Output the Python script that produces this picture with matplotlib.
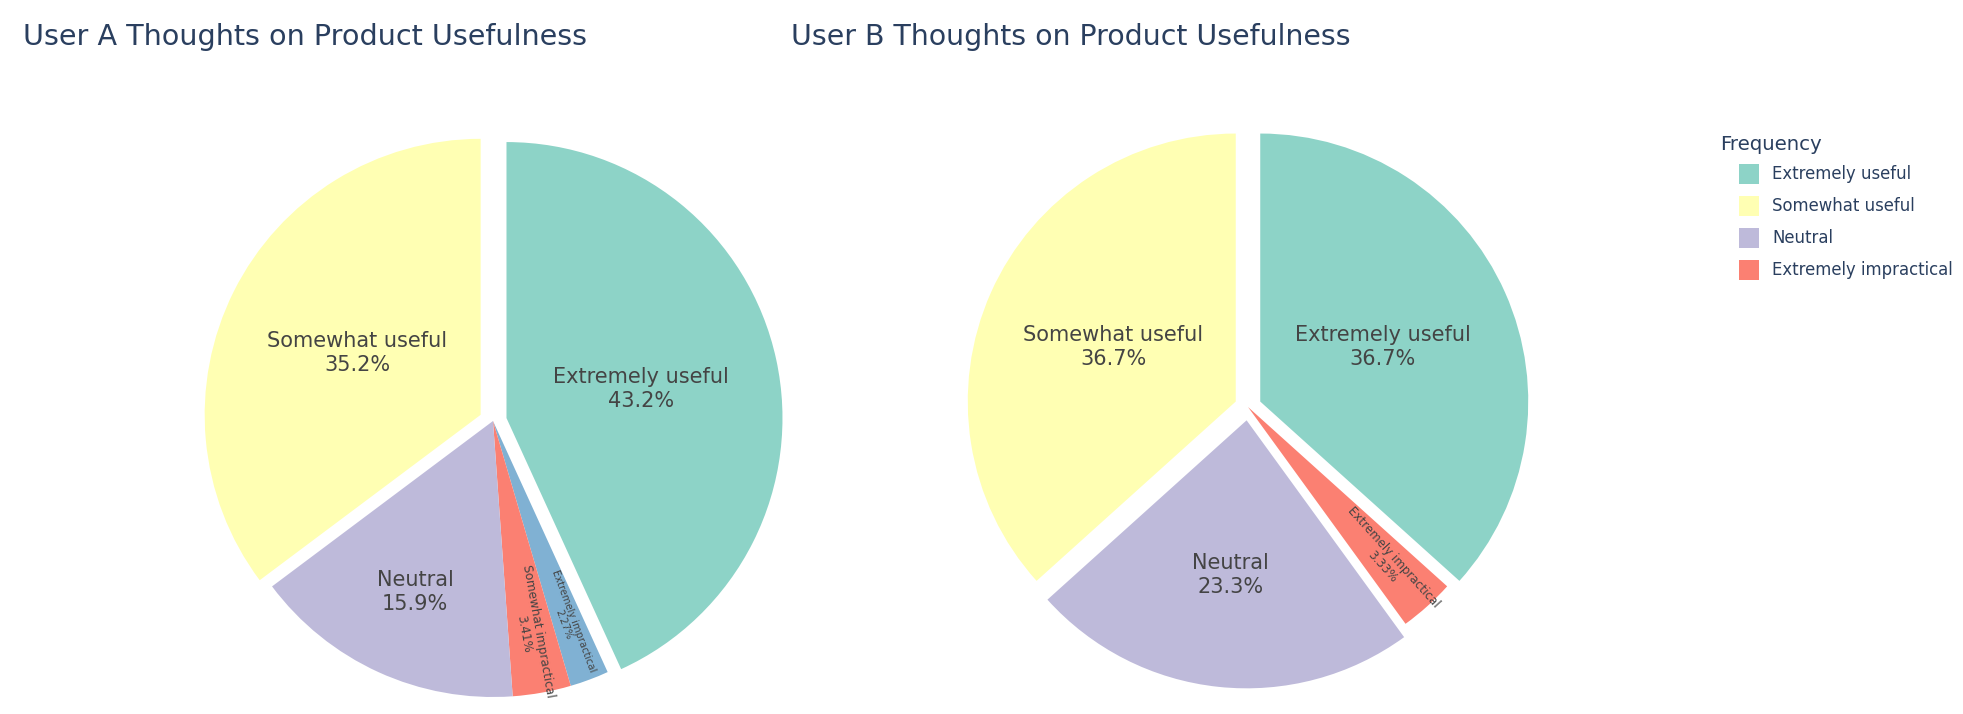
import matplotlib
matplotlib.use("Agg")
import numpy as np
import matplotlib.pyplot as plt
from matplotlib.patches import Rectangle

# data (clockwise from the top, as drawn)
labels_a = ["Extremely useful", "Extremely impractical", "Somewhat impractical", "Neutral", "Somewhat useful"]
counts_a = [38, 2, 3, 14, 31]
labels_b = ["Extremely useful", "Extremely impractical", "Neutral", "Somewhat useful"]
counts_b = [11, 1, 7, 11]
legend_labels = ["Extremely useful", "Somewhat useful", "Neutral", "Extremely impractical"]

title_a = "User A Thoughts on Product Usefulness"
title_b = "User B Thoughts on Product Usefulness"

# style
colors_a = {"Extremely useful": "#8dd3c7", "Somewhat useful": "#ffffb3", "Neutral": "#bebada",
            "Somewhat impractical": "#fb8072", "Extremely impractical": "#80b1d3"}
colors_b = {"Extremely useful": "#8dd3c7", "Somewhat useful": "#ffffb3", "Neutral": "#bebada",
            "Extremely impractical": "#fb8072"}
pull_a = [0.05, 0, 0, 0, 0.05]
pull_b = [0.05, 0, 0.05, 0.05]

TITLE_COL = "#2a3f5f"
TEXT_COL = "#444444"
W, H = 1963, 714

fig = plt.figure(figsize=(W / 100, H / 100), dpi=100)


def add_pie(cx, cy, r, labels, counts, pulls, colors):
    L = 1.12
    ax = fig.add_axes([(cx - L * r) / W, 1 - (cy + L * r) / H, 2 * L * r / W, 2 * L * r / H])
    wedges, _ = ax.pie(counts, colors=[colors[l] for l in labels], explode=pulls,
                       startangle=90, counterclock=False, radius=1)
    ax.set_xlim(-L, L)
    ax.set_ylim(-L, L)
    ax.axis("off")
    total = float(sum(counts))
    for w, lab, c in zip(wedges, labels, counts):
        frac = c / total
        mid = (w.theta1 + w.theta2) / 2
        t = np.deg2rad(mid)
        pct = f"{100 * frac:.3g}%"
        if frac >= 0.08:
            rf = 0.5 if frac >= 0.3 else (0.58 if frac >= 0.2 else 0.68)
            x = w.center[0] + rf * np.cos(t)
            y = w.center[1] + rf * np.sin(t)
            ax.text(x, y, f"{lab}\n{pct}", ha="center", va="center", fontsize=15,
                    color=TEXT_COL, linespacing=1.25)
        else:
            rf = 0.78
            x = w.center[0] + rf * np.cos(t)
            y = w.center[1] + rf * np.sin(t)
            ax.text(x, y, f"{lab}\n{pct}", ha="center", va="center", fontsize=4.2 + 130 * frac,
                    color=TEXT_COL, rotation=mid, rotation_mode="anchor", linespacing=1.1)
    return ax


add_pie(493, 421, 276, labels_a, counts_a, pull_a, colors_a)
add_pie(1248, 407, 268, labels_b, counts_b, pull_b, colors_b)

fig.text(23 / W, 1 - 45 / H, title_a, fontsize=20.6, color=TITLE_COL, ha="left", va="baseline")
fig.text(791 / W, 1 - 45 / H, title_b, fontsize=20.4, color=TITLE_COL, ha="left", va="baseline")

# legend, drawn by hand so the swatches sit indented under the title
fig.text(1720 / W, 1 - 145 / H, "Frequency", fontsize=14.2, color=TITLE_COL, ha="left", va="center")
for i, lab in enumerate(legend_labels):
    yc = 174 + 32 * i
    fig.add_artist(Rectangle((1739 / W, 1 - (yc + 10) / H), 20 / W, 20 / H,
                             transform=fig.transFigure, facecolor=colors_b[lab], edgecolor="none"))
    fig.text(1772 / W, 1 - yc / H, lab, fontsize=11.9, color=TITLE_COL, ha="left", va="center")

fig.savefig("out.png", dpi=100, facecolor="white")
